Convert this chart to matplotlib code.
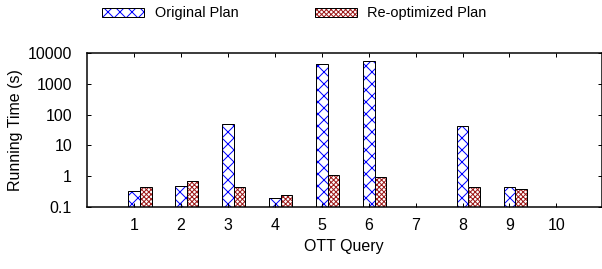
import numpy as np
import matplotlib
matplotlib.use("Agg")
import matplotlib.pyplot as plt
from matplotlib.ticker import LogLocator, NullFormatter
from matplotlib.patches import Patch
from matplotlib.legend_handler import HandlerTuple

# ============================================================================
# DATA
# ============================================================================
queries = [1, 2, 3, 4, 5, 6, 7, 8, 9, 10]
original_plan = [0.34, 0.48, 48, 0.20, 4300, 5400, np.nan, 43, 0.45, np.nan]
reopt_plan = [0.45, 0.70, 0.46, 0.245, 1.07, 0.93, np.nan, 0.45, 0.37, np.nan]
series_names = ["Original Plan", "Re-optimized Plan"]

# ============================================================================
# STYLE
# ============================================================================
DPI = 72
plt.rcParams["font.family"] = ["Liberation Sans", "DejaVu Sans"]
plt.rcParams["font.size"] = 16
plt.rcParams["hatch.linewidth"] = 1.0

BLUE = "#0000ff"
RED = "#9e1b1b"
HATCH_BLUE = "xx"
HATCH_RED = "xxxxx"
BAR_W = 0.25

fig = plt.figure(figsize=(602 / DPI, 269 / DPI), dpi=DPI)
ax = fig.add_axes([87 / 602, 62 / 269, 514.5 / 602, 154 / 269])

x = np.array(queries, dtype=float)

# hatch layer first, then black outline on top
ax.bar(x, original_plan, BAR_W, color="white", edgecolor=BLUE, hatch=HATCH_BLUE, linewidth=0)
ax.bar(x, original_plan, BAR_W, facecolor="none", edgecolor="black", linewidth=1.0)
ax.bar(x + BAR_W, reopt_plan, BAR_W, color="white", edgecolor=RED, hatch=HATCH_RED, linewidth=0)
ax.bar(x + BAR_W, reopt_plan, BAR_W, facecolor="none", edgecolor="black", linewidth=1.0)

ax.set_yscale("log")
ax.set_ylim(0.1, 10000)
ax.set_xlim(0, 10.96)
ax.set_xticks(queries)
ax.set_xticklabels([str(q) for q in queries])
ax.set_yticks([0.1, 1, 10, 100, 1000, 10000])
ax.set_yticklabels(["0.1", "1", "10", "100", "1000", "10000"])
ax.yaxis.set_minor_locator(LogLocator(base=10, subs=(2.3, 6.5)))
ax.yaxis.set_minor_formatter(NullFormatter())

ax.tick_params(which="both", direction="in", top=True, right=True, width=1.0)
ax.tick_params(which="major", length=4)
ax.tick_params(which="minor", length=2)
ax.tick_params(axis="y", pad=15)
ax.tick_params(axis="x", pad=11)
for s in ax.spines.values():
    s.set_linewidth(1.5)

ax.set_xlabel("OTT Query", labelpad=6)
ax.set_ylabel("Running Time (s)", labelpad=5)

# legend across the top: hatch patch + black outline overlaid
h1 = (Patch(facecolor="white", edgecolor=BLUE, hatch=HATCH_BLUE, linewidth=0),
      Patch(facecolor="none", edgecolor="black", linewidth=1.0))
h2 = (Patch(facecolor="white", edgecolor=RED, hatch=HATCH_RED, linewidth=0),
      Patch(facecolor="none", edgecolor="black", linewidth=1.0))
fig.legend([h1, h2], series_names, loc="upper center",
           bbox_to_anchor=(294.5 / 602, 1.025), ncol=2, frameon=False,
           handler_map={tuple: HandlerTuple(ndivide=1, pad=0)},
           fontsize=14.5, handlelength=2.9, handleheight=0.55, handletextpad=0.7,
           columnspacing=5.3)

fig.savefig("out.png", dpi=DPI)
